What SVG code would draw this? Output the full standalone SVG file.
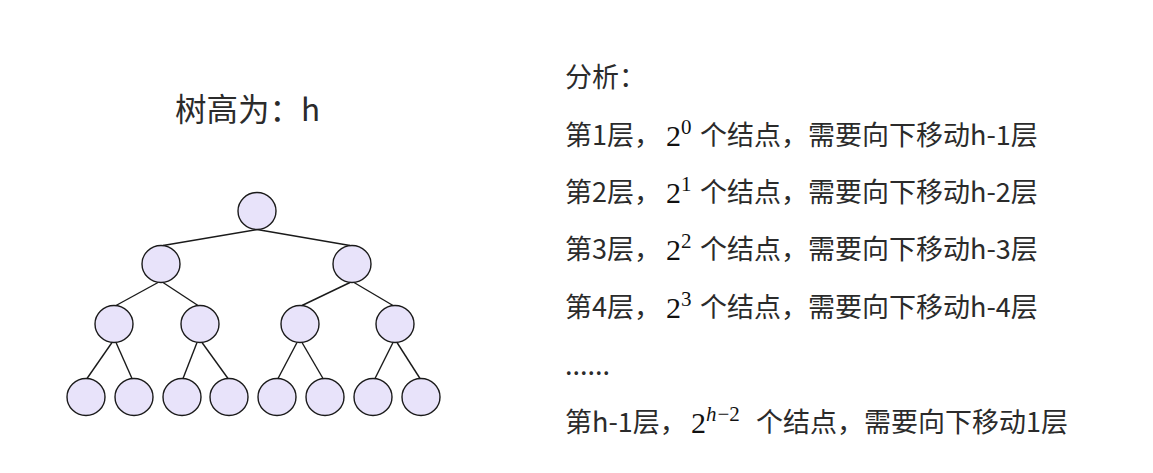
<svg xmlns="http://www.w3.org/2000/svg" width="1153" height="473" viewBox="0 0 1153 473">
<style>
.n{fill:#e8e3fa;stroke:#1a1a1a;stroke-width:1.4}
.e{stroke:#1a1a1a;stroke-width:1.4;fill:none}
.t{font-family:"Noto Sans CJK SC","Noto Sans",sans-serif;fill:#2b2b2b}
.m{font-family:"Liberation Serif","DejaVu Serif",serif;fill:#111}
</style>
<rect width="1153" height="473" fill="#fff"/>
<text class="t" x="175" y="121" font-size="31.5">树高为：h</text>
<g id="edges">
<line class="e" x1="257" y1="229.5" x2="163" y2="245.5"/>
<line class="e" x1="257" y1="229.5" x2="350" y2="245.5"/>
<line class="e" x1="158" y1="282.5" x2="116" y2="305.5"/>
<line class="e" x1="163" y1="282.5" x2="198" y2="305.5"/>
<line class="e" x1="350" y1="282.5" x2="302" y2="305.5"/>
<line class="e" x1="354" y1="282.5" x2="393" y2="305.5"/>
<line class="e" x1="112" y1="342.5" x2="87" y2="378.5"/>
<line class="e" x1="116" y1="342.5" x2="132" y2="378.5"/>
<line class="e" x1="197" y1="342.5" x2="183" y2="378.5"/>
<line class="e" x1="202" y1="342.5" x2="228" y2="378.5"/>
<line class="e" x1="297" y1="342.5" x2="278" y2="378.5"/>
<line class="e" x1="302" y1="342.5" x2="323" y2="378.5"/>
<line class="e" x1="393" y1="342.5" x2="375" y2="378.5"/>
<line class="e" x1="397" y1="342.5" x2="420" y2="378.5"/>
</g>
<g id="root"><ellipse class="n" cx="257" cy="211" rx="19" ry="18.5"/></g>
<g id="n2a"><ellipse class="n" cx="161" cy="264" rx="19" ry="18.5"/></g>
<g id="n2b"><ellipse class="n" cx="352" cy="264" rx="19" ry="18.5"/></g>
<g id="n3a"><ellipse class="n" cx="114" cy="324" rx="19" ry="18.5"/></g>
<g id="n3b"><ellipse class="n" cx="200" cy="324" rx="19" ry="18.5"/></g>
<g id="n3c"><ellipse class="n" cx="300" cy="324" rx="19" ry="18.5"/></g>
<g id="n3d"><ellipse class="n" cx="395" cy="324" rx="19" ry="18.5"/></g>
<g id="n4a"><ellipse class="n" cx="86" cy="397" rx="19" ry="18.5"/></g>
<g id="n4b"><ellipse class="n" cx="134" cy="397" rx="19" ry="18.5"/></g>
<g id="n4c"><ellipse class="n" cx="182" cy="397" rx="19" ry="18.5"/></g>
<g id="n4d"><ellipse class="n" cx="229" cy="397" rx="19" ry="18.5"/></g>
<g id="n4e"><ellipse class="n" cx="277" cy="397" rx="19" ry="18.5"/></g>
<g id="n4f"><ellipse class="n" cx="325" cy="397" rx="19" ry="18.5"/></g>
<g id="n4g"><ellipse class="n" cx="373" cy="397" rx="19" ry="18.5"/></g>
<g id="n4h"><ellipse class="n" cx="421" cy="397" rx="19" ry="18.5"/></g>
<g id="analysis" font-size="27">
<text class="t" x="565" y="87">分析：</text>
<text class="t" x="565" y="145">第1层，</text>
<text class="m" x="666" y="146" font-size="30">2<tspan font-size="21" dy="-12">0</tspan></text>
<text class="t" x="700" y="145">个结点，需要向下移动h-1层</text>
<text class="t" x="565" y="202">第2层，</text>
<text class="m" x="666" y="203" font-size="30">2<tspan font-size="21" dy="-12">1</tspan></text>
<text class="t" x="700" y="202">个结点，需要向下移动h-2层</text>
<text class="t" x="565" y="259">第3层，</text>
<text class="m" x="666" y="260" font-size="30">2<tspan font-size="21" dy="-12">2</tspan></text>
<text class="t" x="700" y="259">个结点，需要向下移动h-3层</text>
<text class="t" x="565" y="317">第4层，</text>
<text class="m" x="666" y="318" font-size="30">2<tspan font-size="21" dy="-12">3</tspan></text>
<text class="t" x="700" y="317">个结点，需要向下移动h-4层</text>
<text class="t" x="565" y="375">......</text>
<text class="t" x="565" y="432">第h-1层，</text>
<text class="m" x="691" y="433" font-size="30">2<tspan font-size="21" dy="-12" font-style="italic">h</tspan><tspan font-size="21" dx="1">−2</tspan></text>
<text class="t" x="756" y="432">个结点，需要向下移动1层</text>
</g>
</svg>
